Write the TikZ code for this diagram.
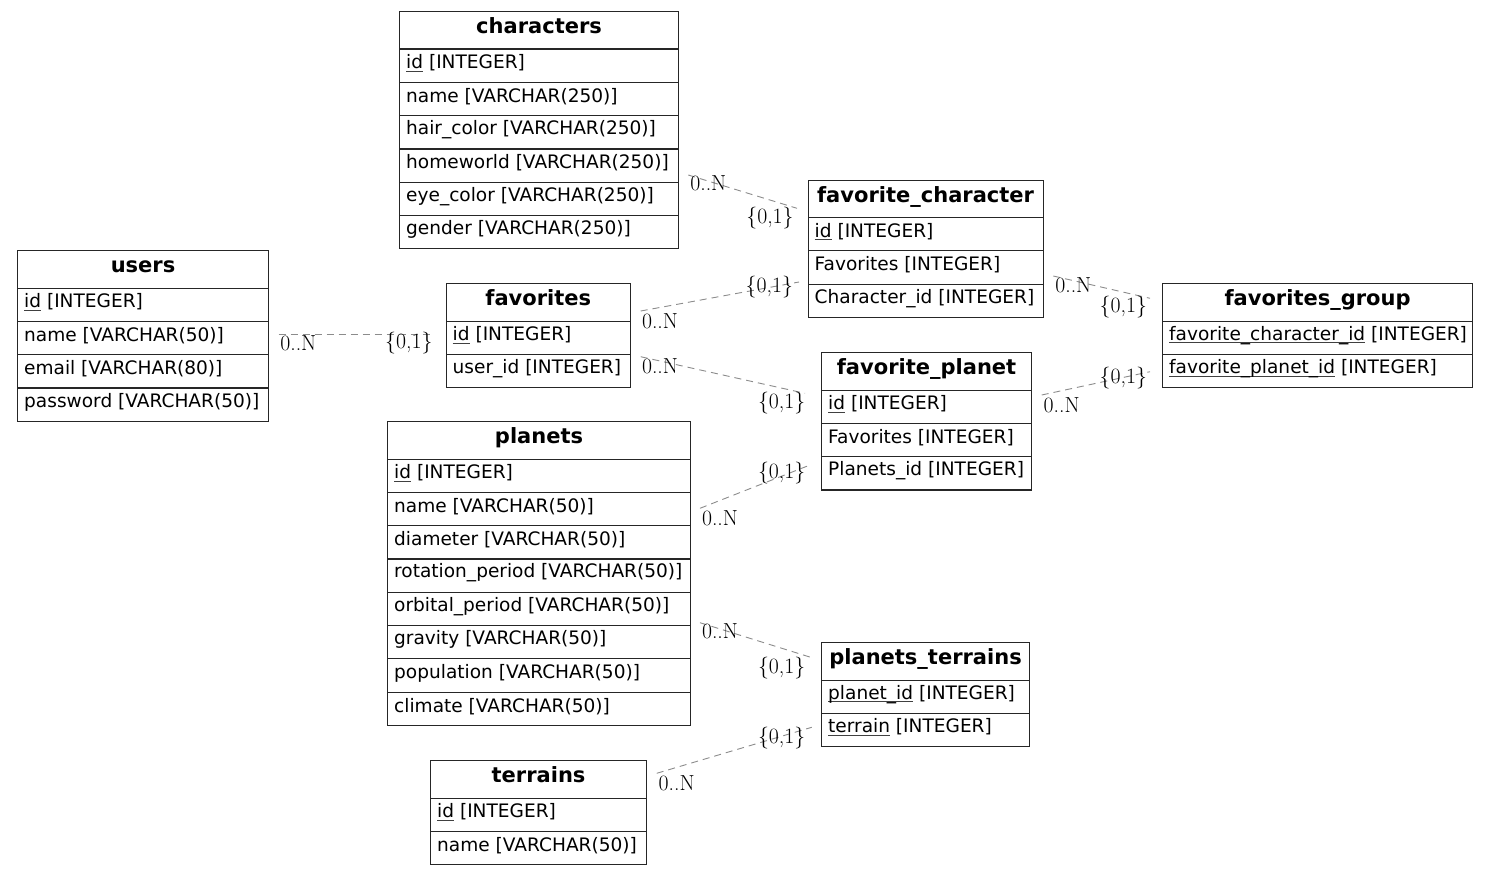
\documentclass[tikz,border=0pt]{standalone}
\usepackage{fontspec}
\setmainfont{DejaVu Sans}
\newfontfamily\labfont{Latin Modern Roman}
\newcommand{\keyul}[1]{\setbox0=\hbox{#1}\rlap{\color{black!75}\rule[-3.2pt]{\wd0}{0.9pt}}\box0\relax}
\tikzset{
  titlebox/.style={draw=black!85, line width=1.1pt, minimum height=37.5pt, inner sep=0pt, text height=14pt, text depth=7pt, font=\fontsize{21}{24}\selectfont\bfseries},
  rowbox/.style={draw=black!85, line width=1.1pt, minimum height=33.3pt, inner sep=0pt},
  rowtext/.style={inner sep=0pt, font=\fontsize{18.55}{22}\selectfont},
  rel/.style={draw=black!45, line width=0.9pt, dash pattern=on 7pt off 5pt},
  lab/.style={inner sep=0pt, font=\labfont\fontsize{21.8}{24}\selectfont}
}
\newcommand{\ertable}[6]{%
  \node[titlebox, minimum width=#4pt, anchor=north west] (#1) at (#2,#3) {#5};
  \foreach \r [count=\i] in {#6} {
    \node[rowbox, minimum width=#4pt, anchor=north west] (#1-\i) at (#2,{#3+37.5+(\i-1)*33.3}) {};
    \node[rowtext, anchor=west] (#1-\i-t) at ([xshift=7pt,yshift=2.5pt]#1-\i.west) {\r};
  }
}
\begin{document}
\begin{tikzpicture}[x=1pt,y=-1pt]
\useasboundingbox (0,0) rectangle (1488,875);
\fill[white] (0,0) rectangle (1488,875);

% tables
\ertable{users}{17}{250}{251}{users}{\keyul{id} [INTEGER],name [VARCHAR(50)],email [VARCHAR(80)],password [VARCHAR(50)]}
\ertable{characters}{399}{11}{279}{characters}{\keyul{id} [INTEGER],name [VARCHAR(250)],hair\_color [VARCHAR(250)],homeworld [VARCHAR(250)],eye\_color [VARCHAR(250)],gender [VARCHAR(250)]}
\ertable{favorites}{445.5}{283}{184.5}{favorites}{\keyul{id} [INTEGER],user\_id [INTEGER]}
\ertable{planets}{387}{421}{303}{planets}{\keyul{id} [INTEGER],name [VARCHAR(50)],diameter [VARCHAR(50)],rotation\_period [VARCHAR(50)],orbital\_period [VARCHAR(50)],gravity [VARCHAR(50)],population [VARCHAR(50)],climate [VARCHAR(50)]}
\ertable{terrains}{430}{760}{216}{terrains}{\keyul{id} [INTEGER],name [VARCHAR(50)]}
\ertable{favchar}{807.5}{179.5}{235}{favorite\_character}{\keyul{id} [INTEGER],Favorites [INTEGER],Character\_id [INTEGER]}
\ertable{favplanet}{821}{352}{210}{favorite\_planet}{\keyul{id} [INTEGER],Favorites [INTEGER],Planets\_id [INTEGER]}
\ertable{planterr}{821}{642}{208}{planets\_terrains}{\keyul{planet\_id} [INTEGER],\keyul{terrain} [INTEGER]}
\ertable{favgroup}{1162}{283}{310}{favorites\_group}{\keyul{favorite\_character\_id} [INTEGER],\keyul{favorite\_planet\_id} [INTEGER]}

% connector end points
\coordinate (e1s) at (278.5,334.3);  \coordinate (e1e) at (431.7,334.3);
\coordinate (e2s) at (688.3,175);    \coordinate (e2e) at (797,208.3);
\coordinate (e3s) at (640.7,311);    \coordinate (e3e) at (799,282);
\coordinate (e4s) at (640.7,356.7);  \coordinate (e4e) at (805,393.3);
\coordinate (e5s) at (1053.3,276);   \coordinate (e5e) at (1150,298.3);
\coordinate (e6s) at (1041.7,395);   \coordinate (e6e) at (1150,371.7);
\coordinate (e7s) at (700,508.3);    \coordinate (e7e) at (810,465);
\coordinate (e8s) at (700,622.7);    \coordinate (e8e) at (810.7,657.3);
\coordinate (e9s) at (656.7,773.3);  \coordinate (e9e) at (811.7,727.3);

\foreach \k in {1,...,9} { \draw[rel] (e\k s) -- (e\k e); }

% cardinality labels
\node[lab] (l1s) at (298.3,343.5) {0..N};   \node[lab] (l1e) at (408.8,343) {\{0,1\}};
\node[lab] (l2s) at (708.3,183.3) {0..N};   \node[lab] (l2e) at (770,218.3) {\{0,1\}};
\node[lab] (l3s) at (660,321) {0..N};       \node[lab] (l3e) at (769.3,286.7) {\{0,1\}};
\node[lab] (l4s) at (660,366) {0..N};       \node[lab] (l4e) at (781.7,403.3) {\{0,1\}};
\node[lab] (l5s) at (1073.3,285) {0..N};    \node[lab] (l5e) at (1123.3,306.7) {\{0,1\}};
\node[lab] (l6s) at (1061.7,405) {0..N};    \node[lab] (l6e) at (1123.3,378.3) {\{0,1\}};
\node[lab] (l7s) at (720,518) {0..N};       \node[lab] (l7e) at (781.7,473.3) {\{0,1\}};
\node[lab] (l8s) at (720,631.7) {0..N};     \node[lab] (l8e) at (781.7,667.7) {\{0,1\}};
\node[lab] (l9s) at (676.7,783.3) {0..N};   \node[lab] (l9e) at (781.7,737.7) {\{0,1\}};
\end{tikzpicture}
\end{document}
